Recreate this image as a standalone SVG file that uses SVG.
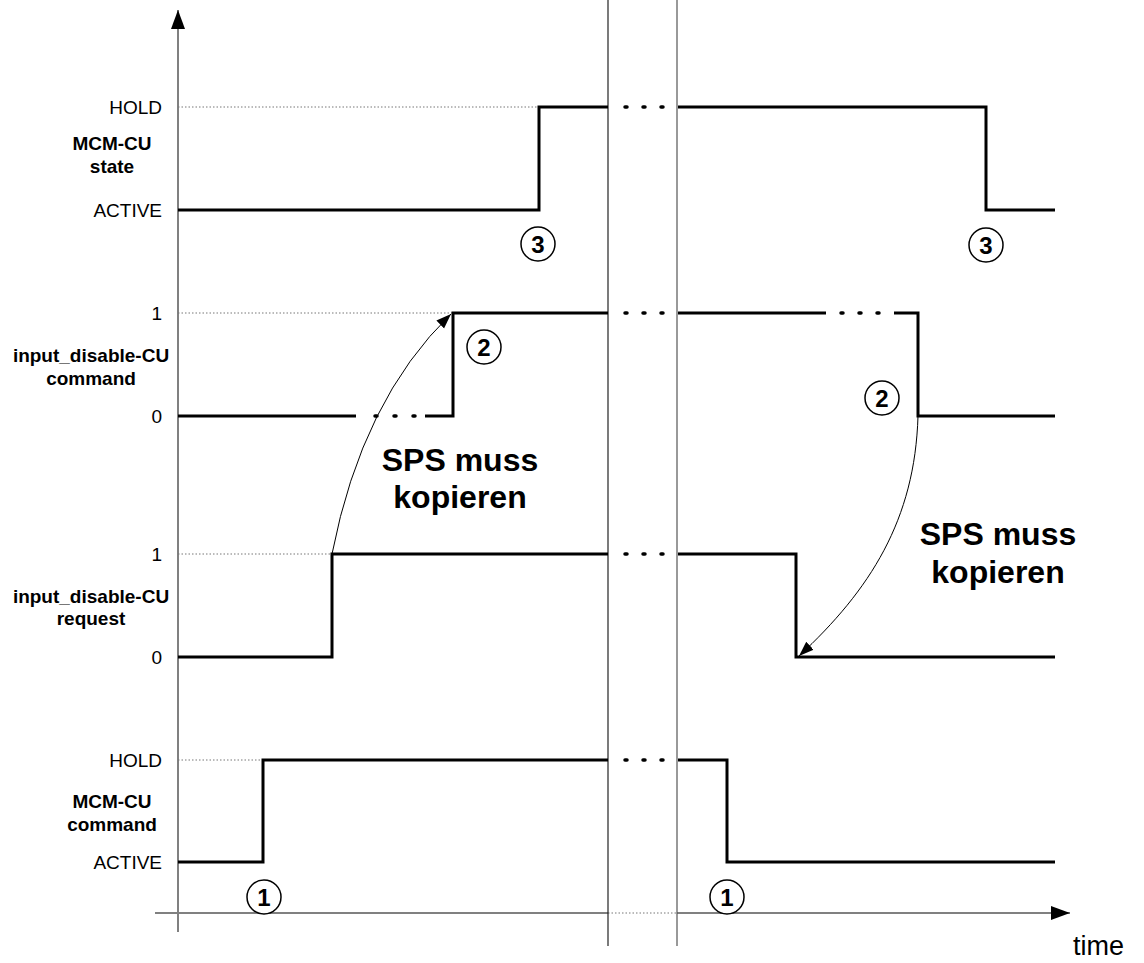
<svg xmlns="http://www.w3.org/2000/svg" width="1144" height="963" viewBox="0 0 1144 963">
<style>
.sig{fill:none;stroke:#000;stroke-width:3;stroke-linejoin:miter}
.dot{stroke:#000;stroke-width:3.5;stroke-linecap:round}
.guide{stroke:#777;stroke-width:1;stroke-dasharray:1.5 2}
.axis{stroke:#808080;stroke-width:2;fill:none}
.brk{stroke-width:1.2;fill:none}
.lbl{font-family:"Liberation Sans",Arial,sans-serif;font-size:19px;fill:#000}
.name{font-family:"Liberation Sans",Arial,sans-serif;font-size:19px;font-weight:bold;fill:#000;text-anchor:middle}
.big{font-family:"Liberation Sans",Arial,sans-serif;font-size:32px;font-weight:bold;fill:#000;text-anchor:middle}
.num{font-family:"Liberation Sans",Arial,sans-serif;font-size:24px;font-weight:bold;fill:#000;text-anchor:middle}
.circ{fill:#fff;stroke:#000;stroke-width:1.5}
.curve{fill:none;stroke:#000;stroke-width:1}
</style>
<defs>
<marker id="ah" markerUnits="userSpaceOnUse" markerWidth="16" markerHeight="12" refX="15" refY="5.5" orient="auto">
<path d="M0,0 L15,5.5 L0,11 z" fill="#000"/>
</marker>
<marker id="axh" markerUnits="userSpaceOnUse" markerWidth="20" markerHeight="14" refX="19" refY="7" orient="auto">
<path d="M0,0 L19,7 L0,14 z" fill="#000"/>
</marker>
</defs>
<rect width="1144" height="963" fill="#fff"/>

<g id="axes">
<line class="axis" x1="178" y1="932" x2="178" y2="10" marker-end="url(#axh)"/>
<line class="axis" x1="155" y1="913" x2="608" y2="913"/>
<line class="guide" x1="608" y1="913" x2="677" y2="913"/>
<line class="axis" x1="677" y1="913" x2="1070" y2="913" marker-end="url(#axh)"/>
<line class="brk" x1="608" y1="0" x2="608" y2="946" stroke="#222"/>
<line class="brk" x1="677" y1="0" x2="677" y2="946" stroke="#555"/>
<text class="lbl" x="1073" y="955" style="font-size:27px">time</text>
</g>

<g id="guides">
<line class="guide" x1="178" y1="107" x2="539" y2="107"/>
<line class="guide" x1="178" y1="313" x2="453" y2="313"/>
<line class="guide" x1="178" y1="554" x2="332" y2="554"/>
<line class="guide" x1="178" y1="760" x2="263" y2="760"/>
</g>

<g id="mcm-cu-state">
<text class="lbl" x="162" y="114" text-anchor="end">HOLD</text>
<text class="lbl" x="162" y="217" text-anchor="end">ACTIVE</text>
<text class="name" x="112" y="150">MCM-CU</text>
<text class="name" x="112" y="173">state</text>
<path class="sig" d="M178,210 H539 V107 H608"/>
<path class="sig" d="M678,107 H986 V210 H1055"/>
<line class="dot" x1="625" y1="107" x2="627" y2="107"/>
<line class="dot" x1="643" y1="107" x2="645" y2="107"/>
<line class="dot" x1="661" y1="107" x2="663" y2="107"/>
</g>

<g id="input-disable-command">
<text class="lbl" x="162" y="320" text-anchor="end">1</text>
<text class="lbl" x="162" y="423" text-anchor="end">0</text>
<text class="name" x="91" y="362">input_disable-CU</text>
<text class="name" x="91" y="385">command</text>
<path class="sig" d="M178,416 H356"/>
<line class="dot" x1="375" y1="416" x2="377" y2="416"/>
<line class="dot" x1="394" y1="416" x2="396" y2="416"/>
<line class="dot" x1="413" y1="416" x2="415" y2="416"/>
<path class="sig" d="M425,416 H453 V313 H608"/>
<line class="dot" x1="625" y1="313" x2="627" y2="313"/>
<line class="dot" x1="643" y1="313" x2="645" y2="313"/>
<line class="dot" x1="661" y1="313" x2="663" y2="313"/>
<path class="sig" d="M678,313 H826"/>
<line class="dot" x1="841" y1="313" x2="843" y2="313"/>
<line class="dot" x1="859" y1="313" x2="861" y2="313"/>
<line class="dot" x1="877" y1="313" x2="879" y2="313"/>
<path class="sig" d="M894,313 H918 V416 H1055"/>
</g>

<g id="input-disable-request">
<text class="lbl" x="162" y="561" text-anchor="end">1</text>
<text class="lbl" x="162" y="664" text-anchor="end">0</text>
<text class="name" x="91" y="603">input_disable-CU</text>
<text class="name" x="91" y="625">request</text>
<path class="sig" d="M178,657 H332 V554 H608"/>
<line class="dot" x1="625" y1="554" x2="627" y2="554"/>
<line class="dot" x1="643" y1="554" x2="645" y2="554"/>
<line class="dot" x1="661" y1="554" x2="663" y2="554"/>
<path class="sig" d="M678,554 H796 V657 H1055"/>
</g>

<g id="mcm-cu-command">
<text class="lbl" x="162" y="767" text-anchor="end">HOLD</text>
<text class="lbl" x="162" y="869" text-anchor="end">ACTIVE</text>
<text class="name" x="112" y="808">MCM-CU</text>
<text class="name" x="112" y="831">command</text>
<path class="sig" d="M178,862 H263 V760 H608"/>
<line class="dot" x1="625" y1="760" x2="627" y2="760"/>
<line class="dot" x1="643" y1="760" x2="645" y2="760"/>
<line class="dot" x1="661" y1="760" x2="663" y2="760"/>
<path class="sig" d="M678,760 H727 V862 H1055"/>
</g>

<g id="connectors">
<path class="curve" d="M332,554 Q362,400 451,314" marker-end="url(#ah)"/>
<path class="curve" d="M918,416 C915,520 870,590 799,656" marker-end="url(#ah)"/>
</g>

<g id="sps-left">
<text class="big" x="460" y="471">SPS muss</text>
<text class="big" x="460" y="508">kopieren</text>
</g>
<g id="sps-right">
<text class="big" x="998" y="545">SPS muss</text>
<text class="big" x="998" y="583">kopieren</text>
</g>

<g id="marker-3a"><circle class="circ" cx="538" cy="244" r="17"/><text class="num" x="538" y="252.5">3</text></g>
<g id="marker-3b"><circle class="circ" cx="986" cy="245" r="17"/><text class="num" x="986" y="253.5">3</text></g>
<g id="marker-2a"><circle class="circ" cx="484" cy="347" r="17"/><text class="num" x="484" y="355.5">2</text></g>
<g id="marker-2b"><circle class="circ" cx="882" cy="398" r="17"/><text class="num" x="882" y="406.5">2</text></g>
<g id="marker-1a"><circle class="circ" cx="264" cy="897" r="17"/><text class="num" x="264" y="905.5">1</text></g>
<g id="marker-1b"><circle class="circ" cx="727" cy="897" r="17"/><text class="num" x="727" y="905.5">1</text></g>
</svg>
